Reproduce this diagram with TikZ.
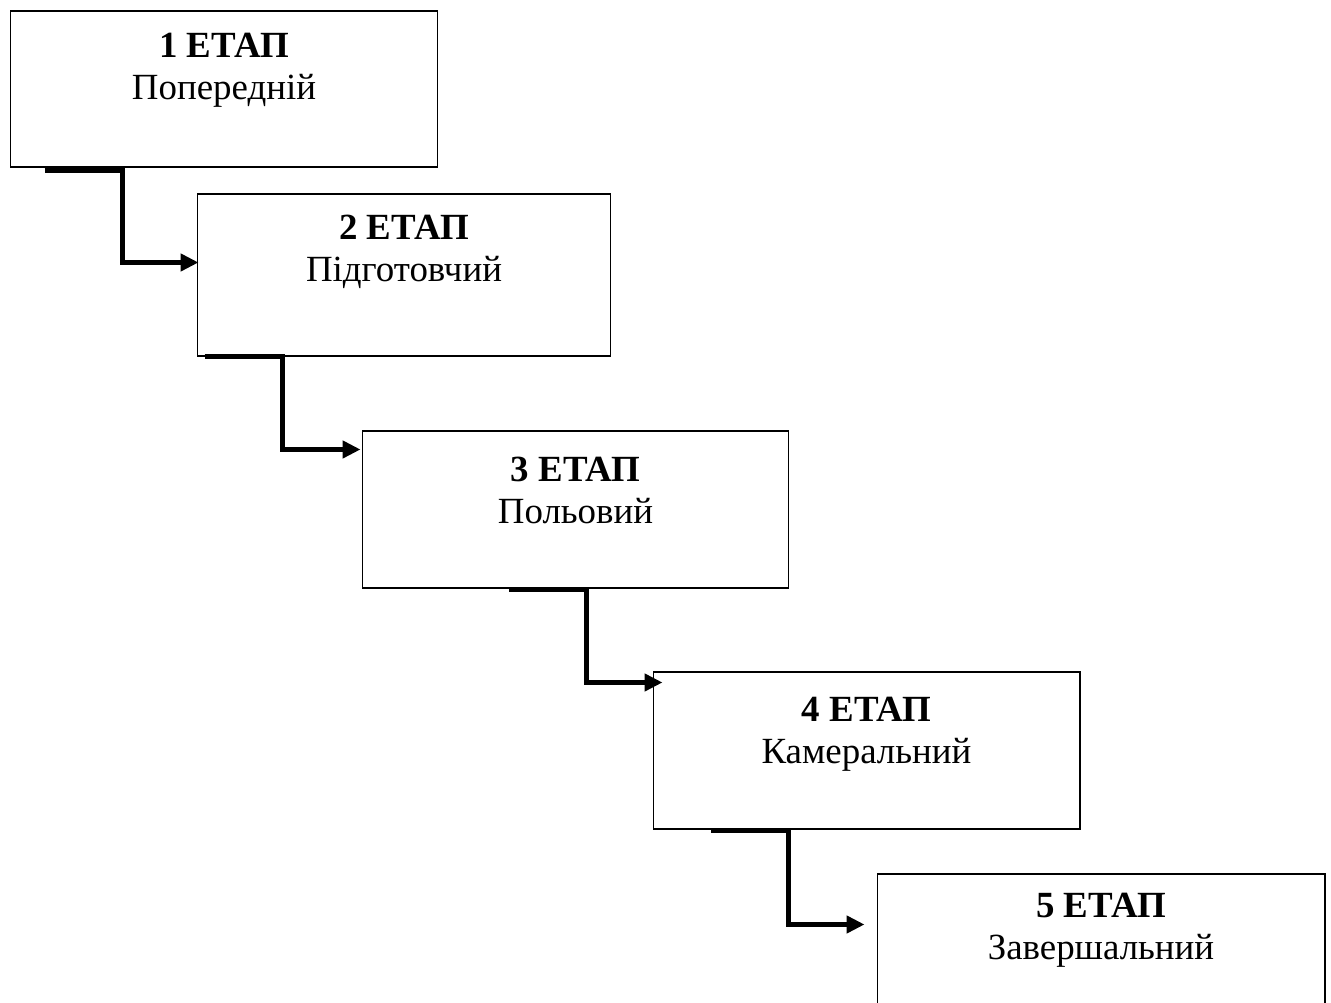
\documentclass[tikz,border=0pt]{standalone}
\usepackage{fontspec}
\setmainfont{Liberation Serif}
\usetikzlibrary{positioning,arrows.meta}
\begin{document}
\begin{tikzpicture}[x=0.02cm,y=-0.02cm,
    stagebox/.style={draw,line width=0.6pt,inner sep=0pt},
    stagetext/.style={inner sep=0pt,align=center,font=\fontsize{21}{23.9}\selectfont},
    flow/.style={line width=3.2pt,-{Triangle[length=0.36cm,width=0.34cm]}}]
\clip (0,0) rectangle (1331,1003);
% boxes
\node[stagebox,minimum width=8.56cm,minimum height=3.12cm] (s1) at (224,89) {};
\node[stagebox,minimum width=8.28cm,minimum height=3.24cm] (s2) at (404,275) {};
\node[stagebox,minimum width=8.54cm,minimum height=3.14cm] (s3) at (575.5,509.5) {};
\node[stagebox,minimum width=8.54cm,minimum height=3.14cm] (s4) at (866.5,750.5) {};
\node[stagebox,minimum width=8.96cm,minimum height=3.14cm] (s5) at (1101,952.5) {};
% labels
\node[stagetext,below=0.44cm of s1.north] (t1) {\textbf{1 ЕТАП}\\Попередній};
\node[stagetext,below=0.42cm of s2.north] (t2) {\textbf{2 ЕТАП}\\Підготовчий};
\node[stagetext,below=0.52cm of s3.north] (t3) {\textbf{3 ЕТАП}\\Польовий};
\node[stagetext,below=0.50cm of s4.north] (t4) {\textbf{4 ЕТАП}\\Камеральний};
\node[stagetext,below=0.38cm of s5.north] (t5) {\textbf{5 ЕТАП}\\Завершальний};
% steps
\draw[flow] ([shift={(35,3)}]s1.south west) -- ++(78,0) |- ([shift={(2,69)}]s2.north west);
\draw[flow] ([shift={(8,0)}]s2.south west) -- ++(78,0) |- ([shift={(-1,19)}]s3.north west);
\draw[flow] ([shift={(147,1)}]s3.south west) -- ++(78,0) |- ([shift={(10,11)}]s4.north west);
\draw[flow] ([shift={(58,1)}]s4.south west) -- ++(78,0) |- ([shift={(-12,51)}]s5.north west);
\end{tikzpicture}
\end{document}
